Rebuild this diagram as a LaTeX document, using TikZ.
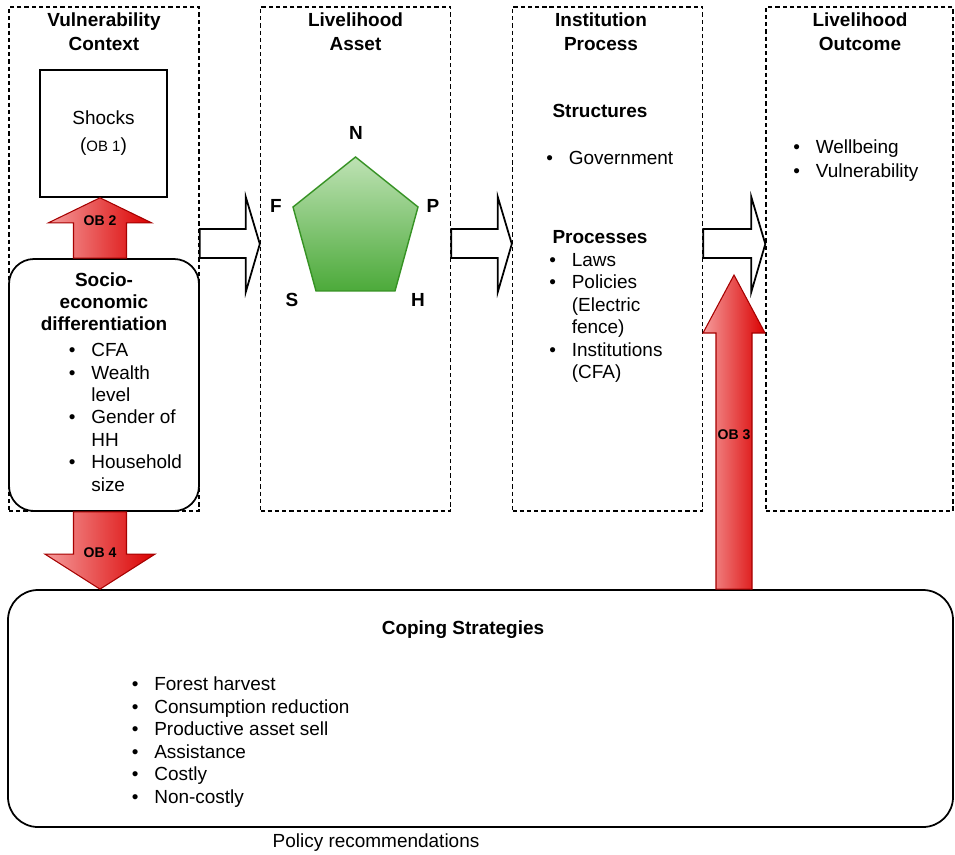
\documentclass[tikz,border=0pt]{standalone}
\usepackage{fontspec}
\setmainfont{Liberation Sans}
\usetikzlibrary{calc}
\definecolor{arrowlight}{RGB}{245,155,155}
\definecolor{arrowmid}{RGB}{234,70,70}
\definecolor{arrowdark}{RGB}{218,0,0}
\definecolor{arrowline}{RGB}{165,0,0}
\definecolor{assetlight}{RGB}{190,226,180}
\definecolor{assetdark}{RGB}{76,170,58}
\definecolor{assetline}{RGB}{54,146,36}
\newcommand{\px}{0.02cm}
\newcommand{\bulletlist}[1] % rows: bullet & text
{\begin{tabular}{@{}l@{\hspace{9pt}}l@{}}#1\end{tabular}}
\newcommand{\redarrow}[5] % start, tip, half shaft, half head, head length (px, + is down)
{
	\path[redblock] ($(#1)+(-#3,0)$) -- ($(#2)+(-#3,#5)$) -- ($(#2)+(-#4,#5)$) -- (#2)
		-- ($(#2)+(#4,#5)$) -- ($(#2)+(#3,#5)$) -- ($(#1)+(#3,0)$) -- cycle;
}
\newcommand{\flowarrow}[2] % start, tip
{
	\draw[flowblock] ($(#1)+(0,-15)$) -- ($(#2)+(-14,-15)$) -- ($(#2)+(-14,-47)$) -- (#2)
		-- ($(#2)+(-14,48)$) -- ($(#2)+(-14,14)$) -- ($(#1)+(0,14)$) -- cycle;
}

\begin{document}
\begin{tikzpicture}[x=\px, y=-\px, every node/.style={inner sep=0pt, font=\fontsize{10.8}{12.8}\selectfont},
	column/.style={draw, line width=0.8pt, dash pattern=on 2.4pt off 1.7pt, minimum width=190*\px, minimum height=504*\px},
	title/.style={font=\fontsize{10.8}{13.7}\selectfont\bfseries, align=center},
	head/.style={font=\fontsize{10.8}{12.5}\selectfont\bfseries, align=center},
	corner/.style={font=\fontsize{10.8}{12.8}\selectfont\bfseries},
	list/.style={anchor=west},
	roundbox/.style={draw, line width=1pt, fill=white},
	redblock/.style={draw=arrowline, line width=0.6pt, left color=arrowlight, middle color=arrowmid, right color=arrowdark},
	flowblock/.style={draw, line width=1pt, fill=white, line join=miter},
	assetshape/.style={draw=assetline, line width=0.8pt, top color=assetlight, bottom color=assetdark},
	oblabel/.style={font=\fontsize{8}{9}\selectfont\bfseries}]
	\useasboundingbox (0,0) rectangle (955,854);
	
	% the four framework columns
	\node[column] (vul) at (104,259) {};
	\node[column] (asset) at (355.5,259) {};
	\node[column] (inst) at (607.5,259) {};
	\node[column, minimum width=187*\px] (outcome) at (859.5,259) {};
	\node[title] (vultitle) at (104,32) {Vulnerability\\Context};
	\node[title] (assettitle) at (355.5,32) {Livelihood\\Asset};
	\node[title] (insttitle) at (601,32) {Institution\\Process};
	\node[title] (outcometitle) at (860,32) {Livelihood\\Outcome};
	
	% vulnerability context
	\node[draw, line width=0.9pt, minimum width=127*\px, minimum height=127*\px, align=center] (shocks) at (103.5,133.5)
		{Shocks\\[2.6pt]({\fontsize{8.5}{9}\selectfont OB 1})};
	\node[roundbox, rounded corners=0.5cm, minimum width=190*\px, minimum height=252*\px] (socio) at (104,385) {};
	\node[head] (sociohead) at (104,302) {Socio-\\economic\\differentiation};
	\node[list] (sociolist) at (68.5,419.5) {\bulletlist{\textbullet & CFA\\ \textbullet & Wealth\\ & level\\
		\textbullet & Gender of\\ & HH\\ \textbullet & Household\\ & size}};
	
	% livelihood asset pentagon
	\draw[assetshape] (355.5,157) -- (418,207) -- (395,291) -- (316,291) -- (293,207) -- cycle;
	\node[corner] (n) at (356,133) {N};
	\node[corner] (p) at (433,206) {P};
	\node[corner] (h) at (418,300) {H};
	\node[corner] (s) at (292,300) {S};
	\node[corner] (f) at (276,206) {F};
	
	% institution process
	\node[head] (structures) at (600,111) {Structures};
	\node[list] (structlist) at (546,160) {\bulletlist{\textbullet & Government}};
	\node[head] (processes) at (600,237) {Processes};
	\node[list] (proclist) at (549,318) {\bulletlist{\textbullet & Laws\\ \textbullet & Policies\\ & (Electric\\
		& fence)\\ \textbullet & Institutions\\ & (CFA)}};
	
	% livelihood outcome
	\node[list] (outcomelist) at (793,161) {\bulletlist{\textbullet & Wellbeing\\[0.8pt] \textbullet & Vulnerability}};
	
	% flow between columns
	\coordinate (flow) at (0,244);
	\flowarrow{vul.east |- flow}{asset.west |- flow}
	\flowarrow{asset.east |- flow}{inst.west |- flow}
	\flowarrow{inst.east |- flow}{outcome.west |- flow}
	
	% coping strategies
	\node[roundbox, rounded corners=0.6cm, minimum width=945*\px, minimum height=237*\px] (coping) at (480.5,708.5) {};
	\node[head] (copinghead) at (463,630) {Coping Strategies};
	\node[list] (copinglist) at (131.5,742.5) {\bulletlist{\textbullet & Forest harvest\\ \textbullet & Consumption reduction\\
		\textbullet & Productive asset sell\\ \textbullet & Assistance\\ \textbullet & Costly\\ \textbullet & Non-costly}};
	\node (policy) at (376,843) {Policy recommendations};
	
	% objectives
	\coordinate (obaxis) at (100,0);
	\redarrow{socio.north -| obaxis}{shocks.south -| obaxis}{26.5}{51.5}{25}
	\node[oblabel] (ob2) at (100,221) {OB 2};
	\redarrow{socio.south -| obaxis}{coping.north -| obaxis}{26.5}{55}{-35}
	\node[oblabel] (ob4) at (100,553) {OB 4};
	\coordinate (ob3tip) at (734,275);
	\redarrow{coping.north -| ob3tip}{ob3tip}{18}{31}{58}
	\node[oblabel] (ob3) at (734,435) {OB 3};
\end{tikzpicture}
\end{document}
